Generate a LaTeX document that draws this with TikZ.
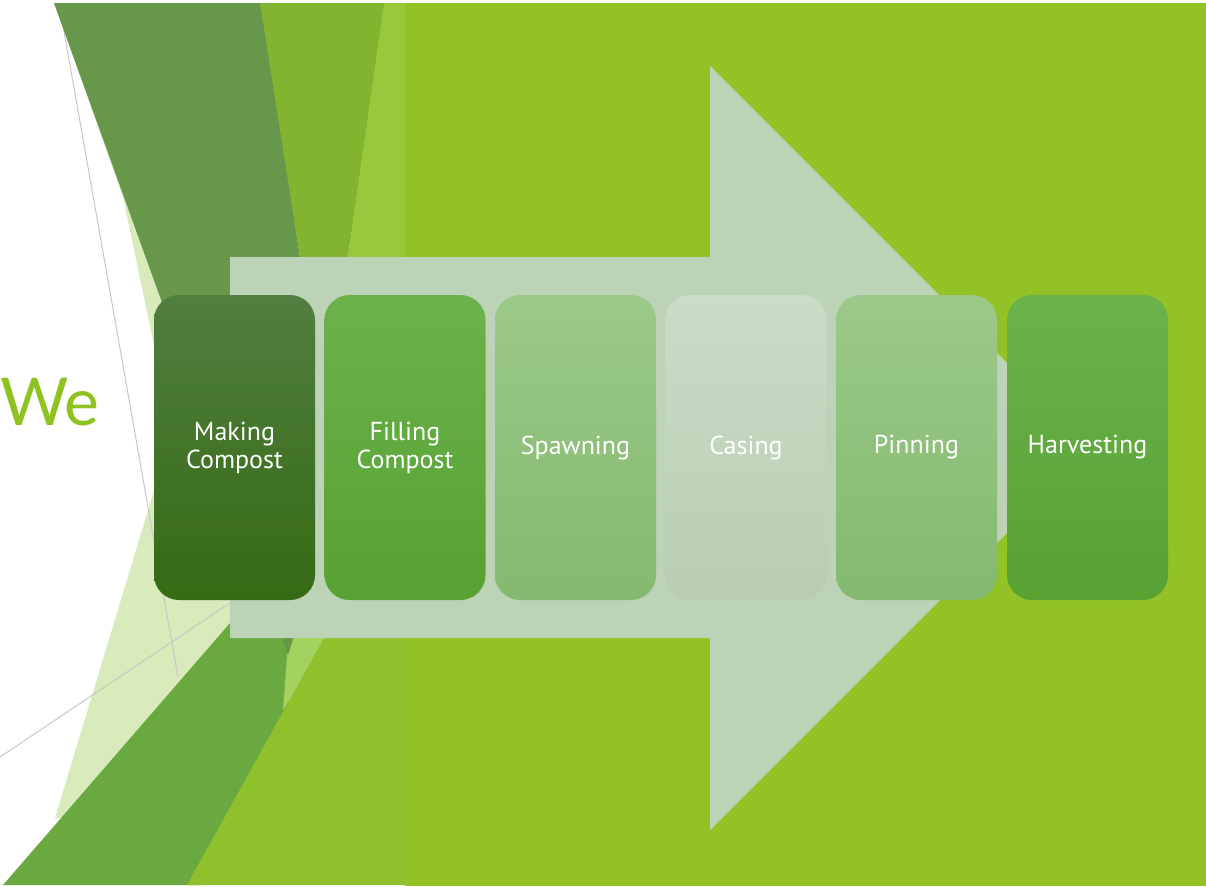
\documentclass[tikz,border=0pt]{standalone}
\usepackage{fontspec}
\setmainfont{PT Sans}
\newfontfamily\wefont{Lato}
\definecolor{solidgreen}{HTML}{92C225}
\definecolor{darkhatch}{HTML}{66974A}
\definecolor{midtop}{HTML}{82B42F}
\definecolor{lightstrip}{HTML}{98C93C}
\definecolor{lighthatch}{HTML}{D9EBBB}
\definecolor{midbottom}{HTML}{69A940}
\definecolor{brightbit}{HTML}{A3D25F}
\definecolor{yellowgreen}{HTML}{8EC12B}
\definecolor{grayline}{HTML}{C8C8C8}
\definecolor{arrowc}{HTML}{BCD3B7}
\definecolor{wegreen}{HTML}{8DC21F}
\definecolor{b1top}{HTML}{507F3F}
\definecolor{b1bot}{HTML}{366A14}
\definecolor{b2top}{HTML}{6BB24C}
\definecolor{b2bot}{HTML}{57A232}
\definecolor{b3top}{HTML}{9BC989}
\definecolor{b3bot}{HTML}{84B96F}
\definecolor{b4top}{HTML}{CBDCC7}
\definecolor{b4bot}{HTML}{B8CDB2}
\tikzset{
  stepbox/.style={rectangle, rounded corners=25pt, minimum width=161pt,
    minimum height=305pt, inner sep=0pt, text=white, align=center,
    font=\fontsize{26}{28}\selectfont},
  thinline/.style={draw=grayline, line width=1pt}
}
\begin{document}
\begin{tikzpicture}[x=1pt,y=-1pt]
\useasboundingbox (0,0) rectangle (1206,886);
\fill[white] (0,0) rectangle (1206,886);
% light hatch shape
\fill[lighthatch] (54,3) -- (123,197) -- (172,431) -- (55,818) -- (160,818) -- (300,600) -- (250,3) -- cycle;
% thin gray lines
\draw[thinline] (59,3) -- (178,677);
\draw[thinline] (0,757) -- (230,603);
% dark hatch
\fill[darkhatch] (54,3) -- (262,3) -- (300,257) -- (305,400) -- (288,652) -- cycle;
% medium top
\fill[midtop] (260,3) -- (385,3) -- (348,257) -- (300,257) -- cycle;
% light strip
\fill[lightstrip] (384,3) -- (406,3) -- (406,257) -- (348,257) -- cycle;
% medium bottom triangle
\fill[midbottom] (3,885) -- (250,600) -- (292,600) -- (290,725) -- (200,885) -- cycle;
% bright bit
\fill[brightbit] (283,710) -- (289,630) -- (335,630) -- cycle;
% dark tip
\fill[darkhatch] (282,636) -- (294,636) -- (288,655) -- cycle;
% yellow-green bottom
\fill[yellowgreen] (187,885) -- (323,640) -- (340,610) -- (406,610) -- (406,885) -- cycle;
% solid green
\fill[solidgreen] (405,3) rectangle (1206,886);
% big arrow
\fill[arrowc] (230,257) -- (710,257) -- (710,66) -- (1092,448) -- (710,830) -- (710,638) -- (230,638) -- cycle;
% title fragment
\node[anchor=base west, inner sep=0pt, text=wegreen, font=\wefont\fontsize{66}{66}\selectfont] (we) at (0,425) {We};
% steps
\node[stepbox, top color=b1top, bottom color=b1bot] (b1) at (234.5,447.5) {Making\\Compost};
\node[stepbox, top color=b2top, bottom color=b2bot] (b2) at (405,447.5) {Filling\\Compost};
\node[stepbox, top color=b3top, bottom color=b3bot] (b3) at (575.5,447.5) {Spawning};
\node[stepbox, top color=b4top, bottom color=b4bot] (b4) at (746,447.5) {Casing};
\node[stepbox, top color=b3top, bottom color=b3bot] (b5) at (916.5,447.5) {Pinning};
\node[stepbox, top color=b2top, bottom color=b2bot] (b6) at (1087.5,447.5) {Harvesting};
\end{tikzpicture}
\end{document}
